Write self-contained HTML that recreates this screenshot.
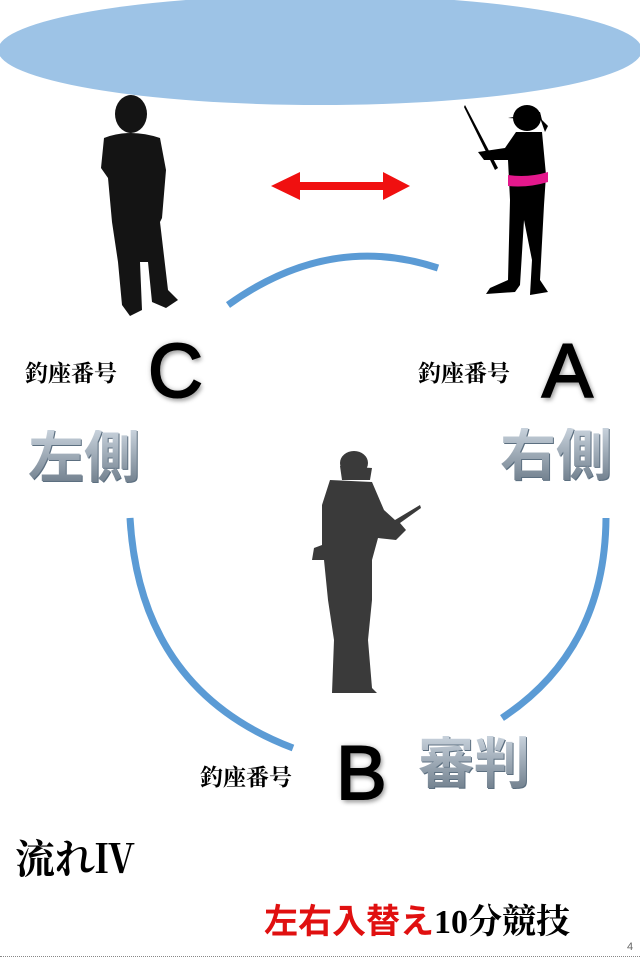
<!DOCTYPE html>
<html><head><meta charset="utf-8"><style>
html,body{margin:0;padding:0;background:#fff;}
body{width:640px;height:960px;position:relative;overflow:hidden;font-family:"Liberation Serif","Noto Serif CJK SC",serif;}
.t{position:absolute;white-space:nowrap;line-height:1;}
.num{font-family:"Liberation Serif","Noto Serif CJK SC",serif;font-size:23px;color:#000;font-weight:bold;}
.big{font-family:"Liberation Sans","Noto Sans CJK JP",sans-serif;font-size:76px;color:#000;-webkit-text-stroke:2px #000;text-shadow:0 0 6px #aaa,2px 3px 5px #999;}
.side{font-family:"Liberation Sans","Noto Sans CJK JP",sans-serif;font-weight:bold;font-size:56px;color:#8a98a6;background:linear-gradient(#c8d2dc,#6d7c8a);-webkit-background-clip:text;background-clip:text;-webkit-text-fill-color:transparent;filter:drop-shadow(1px 1px 0 #5c6f80);}
</style></head><body>
<svg width="640" height="960" style="position:absolute;left:0;top:0">
<ellipse cx="320" cy="50" rx="322" ry="55" fill="#9dc3e6"/>
<path d="M228 305 Q330 232 438 268" fill="none" stroke="#5b9bd5" stroke-width="7"/>
<path d="M130 518 Q140 690 293 748" fill="none" stroke="#5b9bd5" stroke-width="7"/>
<path d="M606 518 Q605 650 502 718" fill="none" stroke="#5b9bd5" stroke-width="7"/>
<polygon points="271,186 300,172 300,182 383,182 383,172 410,186 383,200 383,190 300,190 300,200" fill="#f01010"/>
<g fill="#141414">
<ellipse cx="131" cy="114" rx="16" ry="19"/>
<path d="M104 138 Q130 128 160 138 L166 170 L162 218 L160 222 L125 223 L112 222 L108 178 L101 168 Z"/>
<path d="M112 222 L160 222 L168 290 L178 300 L166 308 L152 302 L148 262 L140 262 L142 310 L130 316 L122 305 L118 262 Z"/>
</g>
<g fill="#000">
<path d="M465 105 L498 168 L495 170 L464 107 Z"/>
<ellipse cx="527" cy="118" rx="14" ry="13"/>
<path d="M508 118 L540 112 L542 120 Z"/>
<path d="M540 118 L548 126 L545 132 Z"/>
<path d="M516 132 L542 132 L546 175 L544 205 L540 280 L548 292 L530 295 L532 260 L524 220 L520 285 L515 292 L486 294 L490 288 L508 280 L510 200 L508 160 L484 160 L478 152 L505 148 Z"/>
</g>
<path d="M508 175 Q528 178 548 172 L548 182 Q528 188 508 186 Z" fill="#e3188c"/>
<g fill="#3a3a3a">
<ellipse cx="354" cy="463" rx="14" ry="12"/>
<path d="M340 466 L372 468 L370 480 L342 480 Z"/>
<path d="M330 480 L372 482 L384 510 L395 520 L420 505 L421 508 L400 523 L406 530 L396 540 L378 538 L372 560 L372 600 L368 640 L372 688 L377 693 L332 693 L334 640 L328 600 L324 560 L312 560 L314 548 L322 545 L322 505 Z"/>
</g>
</svg>
<div class="t num" style="left:25px;top:362px">釣座番号</div>
<div class="t big" style="left:148px;top:334px">C</div>
<div class="t num" style="left:418px;top:362px">釣座番号</div>
<div class="t big" style="left:542px;top:334px">A</div>
<div class="t side" style="left:28px;top:430px">左側</div>
<div class="t side" style="left:500px;top:428px">右側</div>
<div class="t num" style="left:200px;top:766px">釣座番号</div>
<div class="t big" style="left:336px;top:736px">B</div>
<div class="t side" style="left:418px;top:736px">審判</div>
<div class="t" style="left:15px;top:840px;font-size:40px;font-weight:bold;">流れⅣ</div>
<div class="t" style="left:264px;top:905px;font-size:34px;font-weight:bold;"><span style="color:#e01010;font-family:'Liberation Sans','Noto Sans CJK JP',sans-serif">左右入替え</span>10分競技</div>
<div class="t" style="left:627px;top:942px;font-size:11px;color:#666;font-family:'Liberation Sans',sans-serif">4</div>
<div style="position:absolute;left:0;top:956px;width:640px;border-top:1px dotted #888"></div>
</body></html>
